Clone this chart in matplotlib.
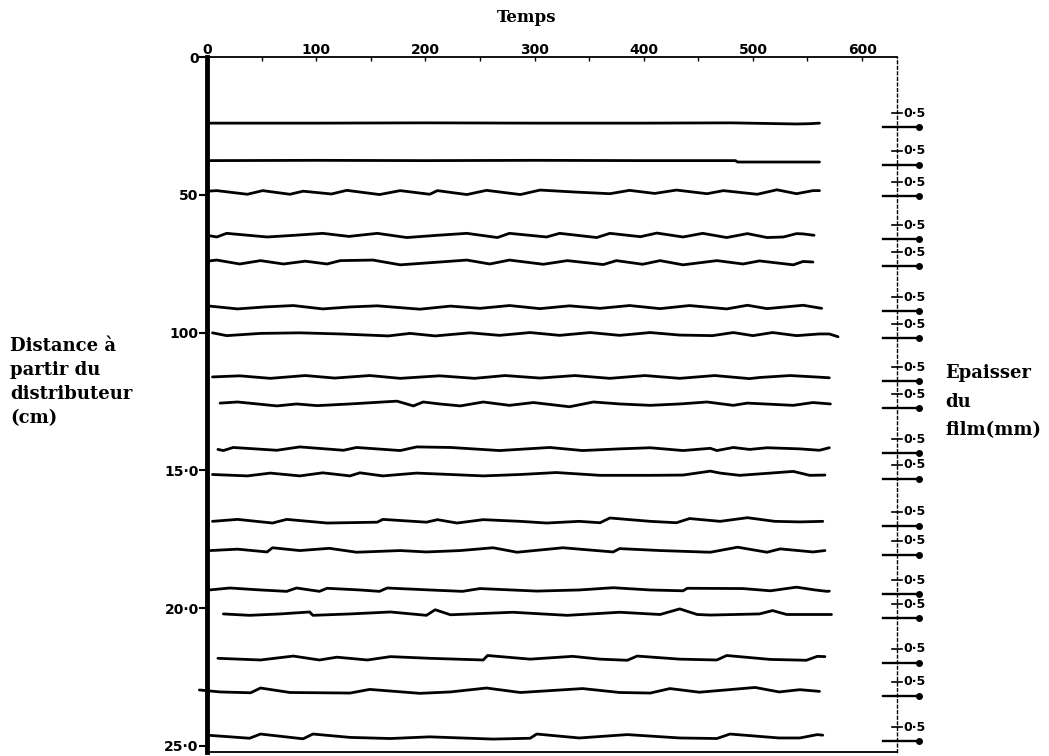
import matplotlib
matplotlib.use("Agg")
import matplotlib.pyplot as plt

# distance of each trace from the distributor (axis units, 0-250)
DISTANCE = [24.0, 37.6, 49.0, 64.7, 74.4, 90.7, 100.5, 116.1, 125.9,
            142.2, 151.5, 168.5, 179.1, 193.4, 202.1, 218.2, 230.2, 246.7]

# film thickness fluctuation (mm) vs time, one list of (temps, mm) per trace
T01 = [(2, 0), (100, 0), (200, 0.01), (300, 0), (400, 0), (480, 0.01),
       (540, -0.03), (552, -0.02), (561, 0)]
T02 = [(2, 0), (100, 0.01), (200, 0), (300, 0.01), (400, 0), (484, 0),
       (486, -0.05), (561, -0.05)]
T03 = [(0, 0.03), (9, 0.05), (37, -0.08), (51, 0.05), (76, -0.08), (88, 0.03),
       (114, -0.07), (128, 0.06), (158, -0.09), (177, 0.05), (204, -0.08),
       (211, 0.05), (238, -0.09), (256, 0.06), (287, -0.09), (305, 0.07),
       (337, 0.0), (369, -0.06), (387, 0.06), (410, -0.05), (430, 0.07),
       (458, -0.06), (473, 0.05), (504, -0.08), (522, 0.08), (540, -0.06),
       (555, 0.05), (561, 0.05)]
T04 = [(0, 0), (9, -0.06), (18, 0.07), (55, -0.06), (80, 0.0), (106, 0.07),
       (130, -0.04), (156, 0.07), (183, -0.08), (211, 0.0), (238, 0.07),
       (266, -0.08), (277, 0.07), (311, -0.06), (323, 0.07), (357, -0.08),
       (369, 0.07), (397, -0.05), (412, 0.08), (436, -0.06), (454, 0.07),
       (476, -0.08), (495, 0.06), (513, -0.08), (528, -0.06), (540, 0.06),
       (546, 0.05), (556, 0.0)]
T05 = [(0, 0.03), (9, 0.07), (30, -0.07), (49, 0.05), (70, -0.07), (90, 0.03),
       (110, -0.07), (122, 0.05), (152, 0.07), (177, -0.1), (213, 0.0),
       (238, 0.07), (259, -0.07), (277, 0.07), (308, -0.08), (330, 0.05),
       (363, -0.09), (375, 0.05), (399, -0.08), (415, 0.05), (436, -0.1),
       (467, 0.05), (491, -0.07), (506, 0.04), (537, -0.1), (546, 0.02),
       (555, 0.0)]
T06 = [(0, 0.04), (28, -0.07), (53, 0.0), (79, 0.05), (106, -0.07), (131, 0.0),
       (156, 0.04), (195, -0.08), (223, 0.03), (250, -0.05), (277, 0.05),
       (305, -0.06), (332, 0.04), (360, -0.05), (387, 0.05), (415, -0.06),
       (442, 0.05), (476, -0.07), (495, 0.06), (513, -0.06), (546, 0.06),
       (563, -0.05)]
T07 = [(5, 0.04), (18, -0.06), (49, 0.02), (85, 0.04), (122, 0.0), (166, -0.07),
       (186, 0.02), (209, -0.07), (241, 0.04), (268, -0.05), (296, 0.05),
       (323, -0.05), (351, 0.05), (378, -0.05), (406, 0.05), (433, -0.04),
       (463, -0.06), (482, 0.05), (500, -0.06), (518, 0.05), (540, -0.06),
       (561, 0.0), (570, 0.0), (578, -0.1)]
T08 = [(5, 0.0), (30, 0.04), (58, -0.05), (90, 0.05), (117, -0.04), (149, 0.05),
       (177, -0.05), (213, 0.04), (245, -0.05), (273, 0.05), (305, -0.04),
       (337, 0.05), (369, -0.05), (401, 0.05), (433, -0.05), (465, 0.05),
       (497, -0.06), (506, -0.02), (534, 0.05), (557, 0.0), (570, -0.03)]
T09 = [(12, 0.03), (28, 0.07), (64, -0.07), (82, 0.0), (101, -0.06), (131, 0.0),
       (174, 0.1), (189, -0.07), (198, 0.07), (213, 0.0), (232, -0.07),
       (253, 0.07), (277, -0.05), (299, 0.05), (332, -0.1), (354, 0.07),
       (378, 0.0), (406, -0.05), (433, 0.0), (458, 0.07), (482, -0.05),
       (495, 0.03), (537, -0.05), (555, 0.05), (571, 0.0)]
T10 = [(10, -0.02), (15, -0.06), (24, 0.05), (64, -0.05), (85, 0.07),
       (125, -0.05), (137, 0.05), (177, -0.06), (192, 0.07), (223, 0.05),
       (268, -0.06), (314, 0.05), (344, -0.06), (378, 0.0), (406, 0.04),
       (436, -0.06), (461, 0.02), (467, -0.06), (482, 0.05), (497, -0.02),
       (513, 0.04), (543, 0.0), (561, -0.05), (570, 0.04)]
T11 = [(5, 0.0), (37, -0.05), (58, 0.05), (85, -0.05), (106, 0.06), (131, -0.05),
       (140, 0.06), (161, -0.05), (192, 0.05), (223, 0.0), (253, -0.05),
       (287, 0.0), (320, 0.07), (360, -0.03), (406, -0.03), (436, -0.02),
       (461, 0.12), (470, 0.05), (488, -0.03), (537, 0.11), (552, -0.03),
       (566, -0.02)]
T12 = [(5, 0.0), (28, 0.07), (60, -0.06), (73, 0.07), (110, -0.06), (156, -0.03),
       (161, 0.07), (201, -0.03), (211, 0.06), (229, -0.06), (253, 0.06),
       (287, 0.0), (311, -0.06), (341, 0.0), (360, -0.05), (369, 0.12),
       (406, 0.0), (430, -0.05), (442, 0.1), (470, 0.0), (495, 0.13),
       (520, 0.0), (543, -0.02), (564, 0.0)]
T13 = [(3, 0.0), (28, 0.05), (55, -0.05), (60, 0.1), (85, 0.0), (112, 0.08),
       (137, -0.06), (177, 0.0), (201, -0.05), (232, 0.0), (262, 0.1),
       (284, -0.06), (326, 0.1), (372, -0.05), (378, 0.07), (415, 0.0),
       (461, -0.06), (486, 0.12), (513, -0.06), (525, 0.06), (555, -0.05),
       (566, 0.0)]
T14 = [(2, 0.0), (21, 0.07), (49, 0.0), (73, -0.05), (82, 0.07), (103, -0.05),
       (110, 0.06), (140, 0.0), (158, -0.05), (165, 0.07), (204, 0.0),
       (234, -0.05), (250, 0.05), (302, -0.04), (341, 0.0), (372, 0.08),
       (406, 0.0), (436, -0.03), (440, 0.06), (491, 0.05), (516, -0.03),
       (540, 0.1), (557, 0.0), (568, -0.05), (570, -0.04)]
T15 = [(15, 0.0), (39, -0.05), (67, 0.0), (94, 0.07), (97, -0.05), (131, 0.0),
       (168, 0.07), (201, -0.05), (209, 0.15), (223, -0.03), (280, 0.06),
       (330, -0.05), (378, 0.06), (415, -0.02), (433, 0.18), (449, -0.02),
       (461, -0.04), (506, 0.0), (518, 0.12), (531, -0.02), (572, -0.02)]
T16 = [(10, 0.0), (49, -0.06), (79, 0.08), (103, -0.06), (119, 0.04),
       (147, -0.06), (168, 0.06), (204, 0.0), (253, -0.06), (257, 0.1),
       (296, -0.03), (335, 0.07), (360, -0.03), (385, -0.07), (394, 0.08),
       (433, -0.03), (467, -0.06), (476, 0.1), (516, -0.04), (549, -0.07),
       (559, 0.07), (566, 0.06)]
T17 = [(-7, 0.05), (12, -0.02), (40, -0.05), (49, 0.12), (76, -0.04),
       (131, -0.06), (149, 0.07), (195, -0.07), (223, -0.02), (256, 0.12),
       (287, -0.04), (344, 0.1), (378, -0.04), (406, -0.06), (424, 0.1),
       (451, -0.03), (502, 0.14), (524, -0.02), (543, 0.06), (561, 0.0)]
T18 = [(0, 0.06), (39, -0.05), (49, 0.1), (88, -0.07), (97, 0.1), (131, -0.02),
       (168, -0.06), (204, 0.0), (262, -0.08), (296, -0.05), (302, 0.1),
       (341, -0.04), (385, 0.08), (433, -0.04), (467, -0.06), (479, 0.1),
       (524, -0.04), (543, -0.04), (559, 0.08), (564, 0.06)]
TRACES = [T01, T02, T03, T04, T05, T06, T07, T08, T09,
          T10, T11, T12, T13, T14, T15, T16, T17, T18]

X_TICKS = [0, 100, 200, 300, 400, 500, 600]
Y_TICKS = [0, 50, 100, 150, 200, 250]
Y_LABELS = ["0", "50", "100", "15·0", "20·0", "25·0"]
SCALE_LABEL = "0·5"

MM = 10.16  # axis units per mm of film thickness

W, H = 1049, 756
fig = plt.figure(figsize=(W / 100, H / 100), dpi=100)
ax = fig.add_axes([207 / W, 1 - 752 / H, 690 / W, 695 / H])
ax.set_xlim(0, 632)
ax.set_ylim(252.2, 0)

for base, pts in zip(DISTANCE, TRACES):
    xs = [p[0] for p in pts]
    ys = [base - p[1] * MM for p in pts]
    ax.plot(xs, ys, color="black", lw=2.0, solid_joinstyle="round",
            solid_capstyle="round", clip_on=False)
    # small thickness scale on the right
    y0 = base + 0.15 * MM
    y5 = y0 - 0.5 * MM
    ax.plot([619, 652], [y0, y0], color="black", lw=1.7, clip_on=False)
    ax.plot([652], [y0], "o", color="black", ms=4, clip_on=False)
    ax.plot([627, 637], [y5, y5], color="black", lw=1.2, clip_on=False)
    ax.text(637.5, y5, SCALE_LABEL, fontsize=9, fontweight="bold",
            va="center", ha="left")

# frame
for side in ("left", "top", "bottom", "right"):
    ax.spines[side].set_color("black")
ax.spines["left"].set_linewidth(3.5)
ax.spines["top"].set_linewidth(1.3)
ax.spines["bottom"].set_linewidth(1.3)
ax.spines["right"].set_linewidth(1.0)
ax.spines["right"].set_linestyle((0, (2, 2)))

ax.xaxis.tick_top()
ax.set_xticks(X_TICKS)
ax.set_xticks([50, 150, 250, 350, 450, 550], minor=True)
ax.tick_params(axis="x", which="major", direction="in", length=3, width=1,
               pad=0, labelsize=10)
ax.tick_params(axis="x", which="minor", direction="in", length=3, width=1)
for lab in ax.get_xticklabels():
    lab.set_fontweight("bold")

ax.set_yticks(Y_TICKS)
ax.set_yticklabels(Y_LABELS, fontsize=10, fontweight="bold")
ax.tick_params(axis="y", direction="out", length=6, width=1.5, pad=0)

serif = ["DejaVu Serif"]
fig.text(527 / W, 1 - 18 / H, "Temps", ha="center", va="center",
         fontsize=12, fontweight="bold", family=serif)
fig.text(10 / W, 1 - 382 / H, "Distance à\npartir du\ndistributeur\n(cm)",
         ha="left", va="center", fontsize=13, fontweight="bold",
         family=serif, linespacing=1.45)
fig.text(945 / W, 1 - 402 / H, "Epaisser\ndu\nfilm(mm)",
         ha="left", va="center", fontsize=13, fontweight="bold",
         family=serif, linespacing=1.75)

fig.savefig("out.png", dpi=100)
